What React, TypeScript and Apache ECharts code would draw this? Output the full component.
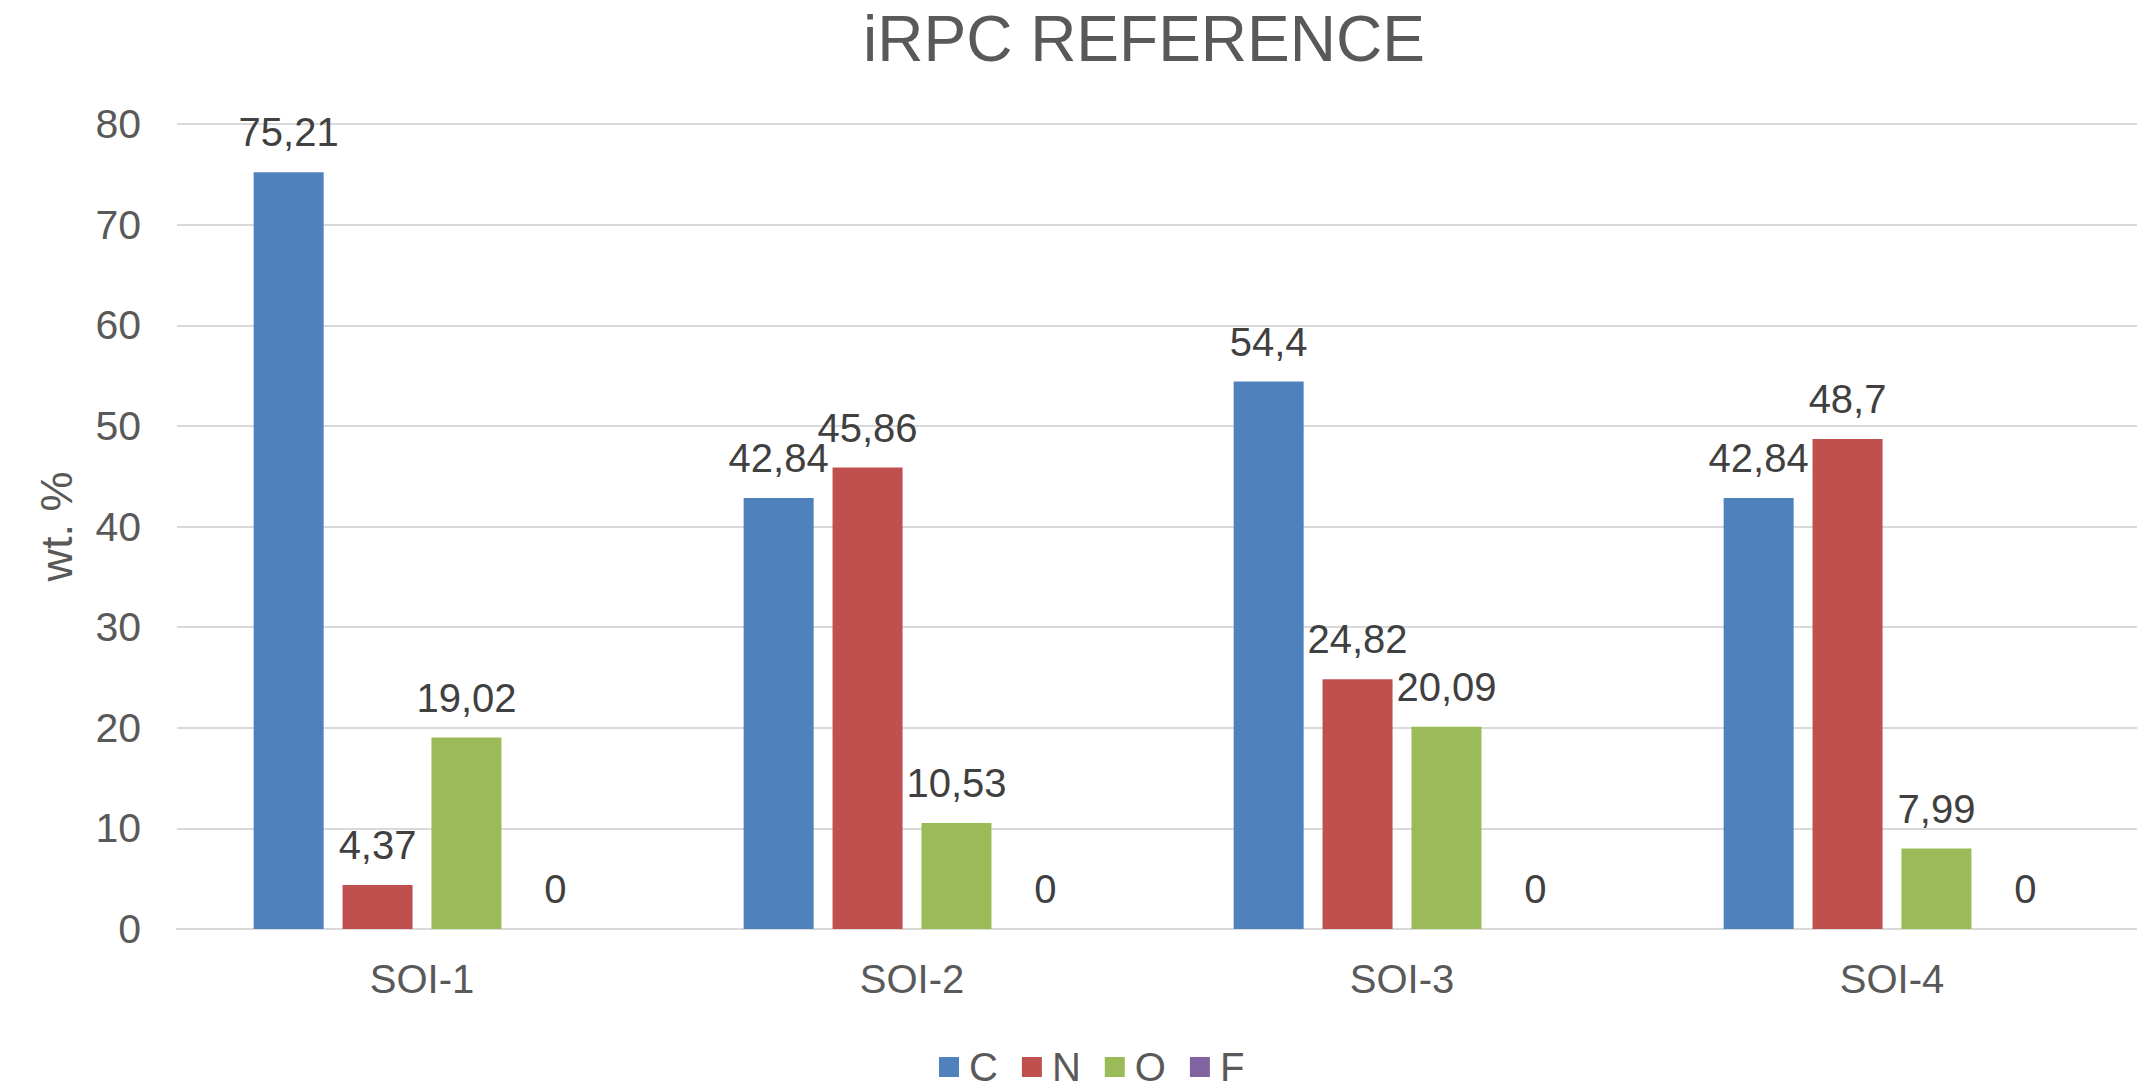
import React, { useEffect, useRef } from "react";
import * as echarts from "echarts";

// Samples and elements measured (wt. %)
const categories = ["SOI-1", "SOI-2", "SOI-3", "SOI-4"];
const elements = ["C", "N", "O", "F"];
const carbon = [75.21, 42.84, 54.4, 42.84];
const nitrogen = [4.37, 45.86, 24.82, 48.7];
const oxygen = [19.02, 10.53, 20.09, 7.99];
const fluorine = [0, 0, 0, 0];
const colors = ["#4F81BD", "#C0504D", "#9BBB59", "#8064A2"];

const FONT = "'Liberation Sans', Arial, Helvetica, sans-serif";

export default function App() {
  const ref = useRef<HTMLDivElement>(null);

  useEffect(() => {
    if (!ref.current) return;
    const chart = echarts.init(ref.current, undefined, { renderer: "svg" });
    const values = [carbon, nitrogen, oxygen, fluorine];

    chart.setOption({
      animation: false,
      textStyle: { fontFamily: FONT },
      title: {
        text: "iRPC REFERENCE",
        left: 863,
        top: 7,
        padding: 0,
        textStyle: { fontSize: 64, fontWeight: "normal", color: "#595959", fontFamily: FONT },
      },
      legend: {
        data: elements,
        left: 939,
        top: 1047,
        padding: 0,
        icon: "rect",
        itemWidth: 20,
        itemHeight: 20,
        itemGap: 24,
        textStyle: { fontSize: 40, color: "#595959", fontFamily: FONT, padding: [0, 0, 0, 5] },
      },
      grid: { left: 177, right: -4, top: 124, bottom: 160, containLabel: false },
      xAxis: {
        type: "category",
        data: categories,
        axisLine: { show: true, lineStyle: { color: "#D9D9D9", width: 2 } },
        axisTick: { show: false },
        axisLabel: { fontSize: 40, color: "#595959", margin: 30, fontFamily: FONT },
      },
      yAxis: {
        type: "value",
        min: 0,
        max: 80,
        interval: 10,
        name: "wt. %",
        nameLocation: "middle",
        nameRotate: 90,
        nameGap: 98,
        nameTextStyle: { fontSize: 45, color: "#595959", fontFamily: FONT },
        axisLine: { show: false },
        axisTick: { show: false },
        axisLabel: { fontSize: 41, color: "#595959", margin: 36, fontFamily: FONT },
        splitLine: { lineStyle: { color: "#D9D9D9", width: 2 } },
      },
      series: elements.map((name, i) => ({
        name,
        type: "bar",
        data: values[i],
        barWidth: 70,
        barGap: "27%",
        itemStyle: { color: colors[i] },
        label: {
          show: true,
          position: "top",
          distance: 20,
          fontSize: 40,
          color: "#404040",
          fontFamily: FONT,
          formatter: (p: any) => String(p.value).replace(".", ","),
        },
      })),
    });

    return () => chart.dispose();
  }, []);

  return (
    <div
      ref={ref}
      style={{ position: "fixed", left: 0, top: 0, width: 2137, height: 1089, background: "#fff" }}
    />
  );
}
